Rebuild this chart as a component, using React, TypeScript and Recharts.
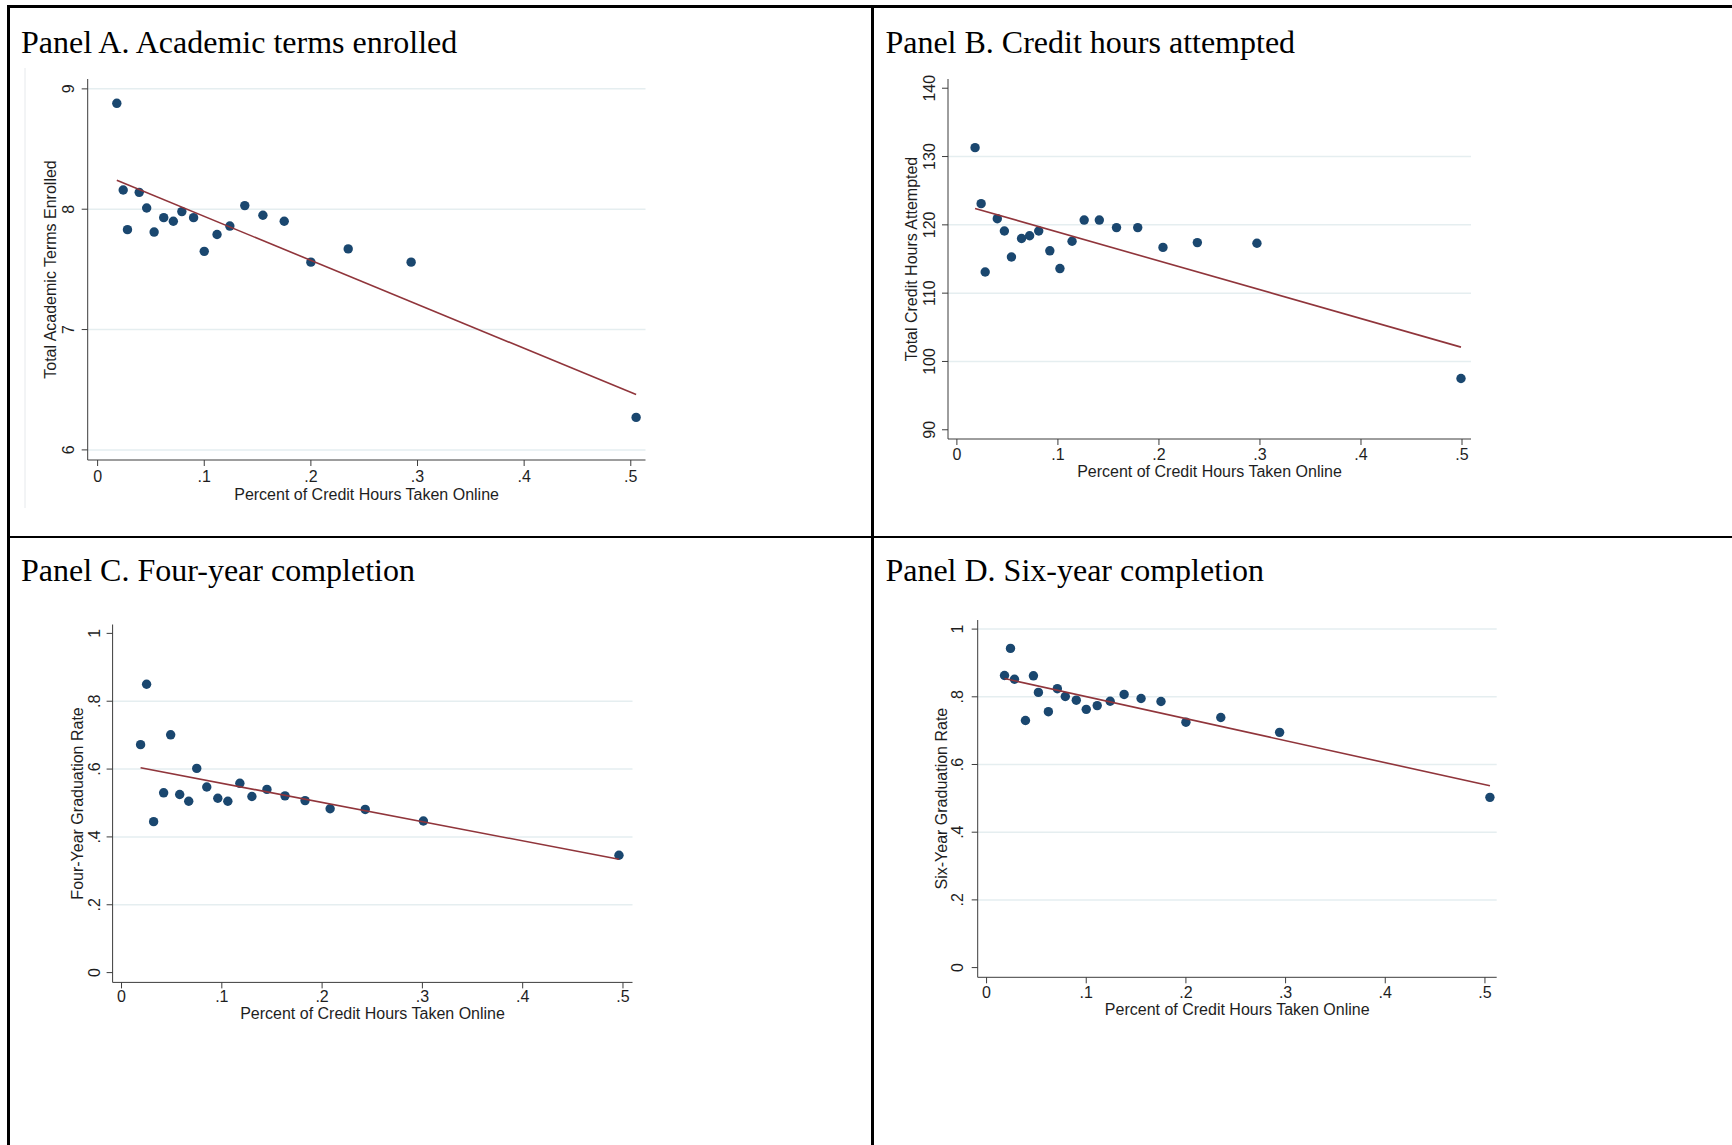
import { ScatterChart, Scatter, XAxis, YAxis, CartesianGrid } from 'recharts';

// share of credit hours taken online (bin means) and outcome per bin
const shareA = [0.018, 0.024, 0.028, 0.039, 0.046, 0.053, 0.062, 0.071, 0.079, 0.09, 0.1, 0.112, 0.124, 0.138, 0.155, 0.175, 0.2, 0.235, 0.294, 0.505];
const termsA = [8.88, 8.16, 7.83, 8.14, 8.01, 7.81, 7.93, 7.9, 7.98, 7.93, 7.65, 7.79, 7.86, 8.03, 7.95, 7.9, 7.56, 7.67, 7.56, 6.27];
const fitShareA = [0.018, 0.505];
const fitTermsA = [8.24, 6.46];

const shareB = [0.018, 0.024, 0.028, 0.04, 0.047, 0.054, 0.064, 0.072, 0.081, 0.092, 0.102, 0.114, 0.126, 0.141, 0.158, 0.179, 0.204, 0.238, 0.297, 0.499];
const hoursB = [131.3, 123.1, 113.1, 120.9, 119.1, 115.3, 118.0, 118.4, 119.1, 116.2, 113.6, 117.6, 120.7, 120.7, 119.6, 119.6, 116.7, 117.4, 117.3, 97.5];
const fitShareB = [0.018, 0.499];
const fitHoursB = [122.4, 102.1];

const shareC = [0.019, 0.025, 0.032, 0.042, 0.049, 0.058, 0.067, 0.075, 0.085, 0.096, 0.106, 0.118, 0.13, 0.145, 0.163, 0.183, 0.208, 0.243, 0.301, 0.496];
const grad4C = [0.672, 0.85, 0.445, 0.53, 0.701, 0.525, 0.505, 0.602, 0.547, 0.514, 0.505, 0.558, 0.519, 0.54, 0.521, 0.507, 0.483, 0.481, 0.447, 0.346];
const fitShareC = [0.019, 0.496];
const fitGrad4C = [0.604, 0.334];

const shareD = [0.018, 0.024, 0.028, 0.039, 0.047, 0.052, 0.062, 0.071, 0.079, 0.09, 0.1, 0.111, 0.124, 0.138, 0.155, 0.175, 0.2, 0.235, 0.294, 0.505];
const grad6D = [0.863, 0.943, 0.852, 0.73, 0.862, 0.813, 0.756, 0.824, 0.801, 0.79, 0.763, 0.774, 0.787, 0.807, 0.795, 0.786, 0.725, 0.739, 0.695, 0.503];
const fitShareD = [0.018, 0.505];
const fitGrad6D = [0.854, 0.537];

const xTicks = [0, 0.1, 0.2, 0.3, 0.4, 0.5];
const termTicks = [6, 7, 8, 9];
const hourTicks = [90, 100, 110, 120, 130, 140];
const hourGrid = [100, 110, 120, 130];
const rateTicks = [0, 0.2, 0.4, 0.6, 0.8, 1];
const rateGridC = [0.2, 0.4, 0.6, 0.8];
const rateGridD = [0.2, 0.4, 0.6, 0.8, 1];

const NAVY = '#1a476f';
const MAROON = '#90353b';
const AXIS = '#3c3c3c';
const GRID = '#e5eef0';
const INK = '#1e1e1e';
const SANS = '"Liberation Sans", Arial, sans-serif';
const SERIF = '"Liberation Serif", "Times New Roman", serif';
const FS = 16;

const fmtFrac = (v: number) => (v === 0 ? '0' : v === 1 ? '1' : String(v).replace(/^0/, ''));
const toPts = (xs: number[], ys: number[]) => xs.map((x, i) => ({ x, y: ys[i] }));

function Panel(p: any) {
  const { plot } = p;
  const margin = {
    left: plot.left - 60,
    top: plot.top,
    right: p.width - plot.right,
    bottom: p.height - plot.bottom - 60,
  };

  const XTick = (t: any) => (
    <text x={t.x} y={plot.bottom + p.xLabOff} textAnchor="middle" fontFamily={SANS} fontSize={FS} fill={INK}>
      {fmtFrac(t.payload.value)}
    </text>
  );
  const YTick = (t: any) => {
    const lx = plot.left - p.yLabOff;
    return (
      <text x={lx} y={t.y} transform={`rotate(-90, ${lx}, ${t.y})`} textAnchor="middle" fontFamily={SANS} fontSize={FS} fill={INK}>
        {p.yFmt(t.payload.value)}
      </text>
    );
  };

  const cx = (plot.left + plot.right) / 2;
  const cy = (plot.top + plot.bottom) / 2;
  const ty = plot.left - p.yTitleOff;

  return (
    <div style={{ position: 'absolute', left: p.left, top: p.top }}>
      <ScatterChart width={p.width} height={p.height} margin={margin}>
        {p.frame && <line x1={25} y1={68} x2={25} y2={508} stroke="#e6e9ec" strokeWidth={1} />}
        <text x={p.titleX} y={p.titleY} fontFamily={SERIF} fontSize={32} fill="#000">
          {p.title}
        </text>
        <CartesianGrid horizontal vertical={false} horizontalValues={p.grid} stroke={GRID} strokeWidth={1.5} />
        <XAxis
          type="number"
          dataKey="x"
          domain={p.xDomain}
          ticks={xTicks}
          interval={0}
          allowDataOverflow
          height={60}
          tickSize={6}
          axisLine={{ stroke: AXIS }}
          tickLine={{ stroke: AXIS }}
          tick={XTick}
        />
        <YAxis
          type="number"
          dataKey="y"
          domain={p.yDomain}
          ticks={p.yTicks}
          interval={0}
          allowDataOverflow
          width={60}
          tickSize={6}
          axisLine={{ stroke: AXIS }}
          tickLine={{ stroke: AXIS }}
          tick={YTick}
        />
        <Scatter
          data={p.pts}
          isAnimationActive={false}
          shape={(s: any) => <circle cx={s.cx} cy={s.cy} r={4.7} fill={NAVY} />}
        />
        <Scatter
          data={p.fit}
          isAnimationActive={false}
          line={{ stroke: MAROON, strokeWidth: 1.6 }}
          shape={() => <g />}
        />
        <text x={cx} y={plot.bottom + p.xTitleOff} textAnchor="middle" fontFamily={SANS} fontSize={FS} fill={INK}>
          Percent of Credit Hours Taken Online
        </text>
        <text x={ty} y={cy} transform={`rotate(-90, ${ty}, ${cy})`} textAnchor="middle" fontFamily={SANS} fontSize={FS} fill={INK}>
          {p.yTitle}
        </text>
      </ScatterChart>
    </div>
  );
}

const line = (s: any) => <div style={{ position: 'absolute', background: '#000', ...s }} />;

export default function App() {
  return (
    <div style={{ position: 'absolute', left: 0, top: 0, width: 1732, height: 1145, background: '#fff', overflow: 'hidden' }}>
      <Panel
        left={0} top={0} width={870} height={535}
        title="Panel A. Academic terms enrolled" titleX={21} titleY={53.4} frame
        plot={{ left: 87.7, top: 79, right: 645.5, bottom: 460 }}
        xDomain={[-0.0093, 0.5138]} yDomain={[5.916, 9.082]}
        yTicks={termTicks} grid={termTicks} yFmt={(v: number) => String(v)}
        yLabOff={14} xLabOff={21.5} yTitleOff={32} xTitleOff={40}
        yTitle="Total Academic Terms Enrolled"
        pts={toPts(shareA, termsA)} fit={toPts(fitShareA, fitTermsA)}
      />
      <Panel
        left={872} top={0} width={860} height={535}
        title="Panel B. Credit hours attempted" titleX={13.4} titleY={53.4}
        plot={{ left: 76, top: 79, right: 599, bottom: 439 }}
        xDomain={[-0.0088, 0.5089]} yDomain={[88.65, 141.35]}
        yTicks={hourTicks} grid={hourGrid} yFmt={(v: number) => String(v)}
        yLabOff={13} xLabOff={21} yTitleOff={31} xTitleOff={37.5}
        yTitle="Total Credit Hours Attempted"
        pts={toPts(shareB, hoursB)} fit={toPts(fitShareB, fitHoursB)}
      />
      <Panel
        left={0} top={537} width={870} height={608}
        title="Panel C. Four-year completion" titleX={21} titleY={44}
        plot={{ left: 112.6, top: 87.5, right: 632.5, bottom: 445.4 }}
        xDomain={[-0.0089, 0.5095]} yDomain={[-0.0289, 1.0262]}
        yTicks={rateTicks} grid={rateGridC} yFmt={fmtFrac}
        yLabOff={12.7} xLabOff={19.5} yTitleOff={29.5} xTitleOff={37}
        yTitle="Four-Year Graduation Rate"
        pts={toPts(shareC, grad4C)} fit={toPts(fitShareC, fitGrad4C)}
      />
      <Panel
        left={872} top={537} width={860} height={608}
        title="Panel D. Six-year completion" titleX={13.4} titleY={44}
        plot={{ left: 105.7, top: 83, right: 624.7, bottom: 440.3 }}
        xDomain={[-0.0089, 0.5118]} yDomain={[-0.0287, 1.0269]}
        yTicks={rateTicks} grid={rateGridD} yFmt={fmtFrac}
        yLabOff={14.2} xLabOff={20.6} yTitleOff={30.7} xTitleOff={38}
        yTitle="Six-Year Graduation Rate"
        pts={toPts(shareD, grad6D)} fit={toPts(fitShareD, fitGrad6D)}
      />
      {line({ left: 7, top: 5, width: 1725, height: 2.5 })}
      {line({ left: 7, top: 5, width: 2.5, height: 1140 })}
      {line({ left: 871, top: 5, width: 2.5, height: 1140 })}
      {line({ left: 7, top: 535.5, width: 1725, height: 2.5 })}
    </div>
  );
}
